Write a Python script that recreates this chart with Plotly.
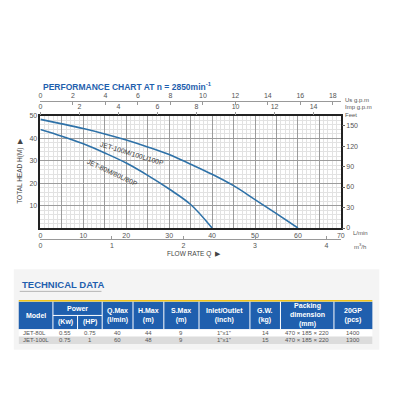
import plotly.graph_objects as go

# performance curves (flow in L/min, head in m)
flow_80 = [0, 5, 10, 15, 20, 25, 30, 35, 40]
head_80 = [44, 41, 37.6, 33.5, 29, 23.5, 17.4, 10.5, 0]
flow_100 = [0, 5, 10, 15, 20, 25, 30, 35, 40, 45, 50, 55, 60]
head_100 = [48.5, 46.5, 44.4, 42, 39.3, 36.2, 32.8, 28.5, 24, 18.9, 12.7, 6.4, 0]
curve_names = ["JET-80M/80L/80P", "JET-100M/100L/100P"]

# unit conversions for the extra axes
LPM_MAX = 70
HEAD_MAX = 50
US_GPM = 0.264172
IMP_GPM = 0.219969
M3H = 0.06
FEET = 3.28084

# technical data table
col_models = ["JET-80L", "JET-100L"]
col_kw = ["0.55", "0.75"]
col_hp = ["0.75", "1"]
col_qmax = ["40", "60"]
col_hmax = ["44", "48"]
col_smax = ["9", "9"]
col_inlet = ['1"x1"', '1"x1"']
col_gw = ["14", "15"]
col_pack = ["470 × 185 × 220", "470 × 185 × 220"]
col_20gp = ["1400", "1300"]

BLUE = "#1f5fae"
CURVE = "#2f72a8"
W = H = 400


def px(x):
    return x / W


def py(y):
    return 1 - y / H


fig = go.Figure()
for fl, hd in [(flow_80, head_80), (flow_100, head_100)]:
    fig.add_trace(go.Scatter(x=fl, y=hd, mode="lines", line=dict(color=CURVE, width=1.6, shape="spline"),
                             showlegend=False, hoverinfo="skip"))

# the same curve in the other units, invisible, so the secondary axes get drawn
fig.add_trace(go.Scatter(x=[f * US_GPM for f in flow_100], y=head_100, xaxis="x2", yaxis="y",
                         opacity=0, showlegend=False, hoverinfo="skip"))
fig.add_trace(go.Scatter(x=[f * IMP_GPM for f in flow_100], y=head_100, xaxis="x3", yaxis="y",
                         opacity=0, showlegend=False, hoverinfo="skip"))
fig.add_trace(go.Scatter(x=[f * M3H for f in flow_100], y=head_100, xaxis="x4", yaxis="y",
                         opacity=0, showlegend=False, hoverinfo="skip"))
fig.add_trace(go.Scatter(x=flow_100, y=[h * FEET for h in head_100], xaxis="x", yaxis="y2",
                         opacity=0, showlegend=False, hoverinfo="skip"))

tick_font = dict(family="Arial", size=7, color="#555")
xdom = [px(39), px(344)]

fig.update_layout(
    width=W, height=H, margin=dict(l=0, r=0, t=0, b=0),
    paper_bgcolor="white", plot_bgcolor="white",
    xaxis=dict(domain=xdom, range=[0, LPM_MAX], tickmode="array",
               tickvals=list(range(0, 71, 5)),
               ticktext=[str(v) if v % 10 == 0 else "" for v in range(0, 71, 5)],
               showgrid=True, gridcolor="#9c9c9c", gridwidth=1,
               minor=dict(tick0=0, dtick=1, showgrid=True, gridcolor="#e2e2e2", gridwidth=0.6),
               showline=True, linecolor="#222", linewidth=1.6, mirror=True,
               ticks="", tickfont=tick_font, zeroline=False),
    yaxis=dict(domain=[py(228), py(114)], range=[0, HEAD_MAX], tickmode="array",
               tickvals=list(range(0, 51, 10)),
               ticktext=["" if v == 0 else str(v) for v in range(0, 51, 10)],
               showgrid=True, gridcolor="#9c9c9c", gridwidth=1,
               minor=dict(tick0=0, dtick=2, showgrid=True, gridcolor="#e2e2e2", gridwidth=0.6),
               showline=True, linecolor="#222", linewidth=1.6, mirror=True,
               ticks="", tickfont=tick_font, zeroline=False),
    yaxis2=dict(overlaying="y", side="right", anchor="x", range=[0, HEAD_MAX * FEET],
                tickvals=list(range(0, 151, 30)), ticks="outside", ticklen=3, tickcolor="#666",
                showgrid=False, zeroline=False, tickfont=tick_font),
    xaxis2=dict(overlaying="x", side="top", anchor="free", position=py(99),
                range=[0, LPM_MAX * US_GPM], dtick=2, showline=True, linecolor="#999",
                ticks="inside", ticklen=3, tickcolor="#999", showgrid=False, zeroline=False,
                tickfont=tick_font),
    xaxis3=dict(overlaying="x", side="top", anchor="y",
                range=[0, LPM_MAX * IMP_GPM], dtick=2, showline=False,
                ticks="outside", ticklen=3, tickcolor="#999", showgrid=False, zeroline=False,
                tickfont=tick_font),
    xaxis4=dict(overlaying="x", side="bottom", anchor="free", position=py(239),
                range=[0, LPM_MAX * M3H], dtick=1, showline=True, linecolor="#999",
                ticks="inside", ticklen=3, tickcolor="#999", showgrid=False, zeroline=False,
                tickfont=tick_font),
)

ann = []


def label(x, y, text, size=7, color="#555", xanchor="left", bold=False, angle=0, **kw):
    if bold:
        text = "<b>" + text + "</b>"
    ann.append(dict(x=px(x), y=py(y), xref="paper", yref="paper", text=text, showarrow=False,
                    xanchor=xanchor, yanchor="middle", textangle=angle,
                    font=dict(family="Arial", size=size, color=color), **kw))


label(40, 84, "PERFORMANCE CHART AT n = 2850min<sup>-1</sup>", size=8.5, color=BLUE, bold=True)
label(346, 98, "Us g.p.m", size=6)
label(346, 105, "Imp g.p.m", size=6)
label(346, 113, "Feet", size=6)
label(354, 233, "L/min", size=6)
label(355, 246, "m<sup>3</sup>/h", size=6)
label(165, 254, "FLOW RATE Q  ▶", size=6.5, color="#444")
label(18, 170, "TOTAL HEAD H(M)  ▶", size=6.5, color="#444", xanchor="center", angle=-90)

# curve labels follow the curves
ann.append(dict(x=16.7, y=24.8, xref="x", yref="y", text=curve_names[0], showarrow=False,
                textangle=25, font=dict(family="Arial", size=6.8, color="#3a3a3a")))
ann.append(dict(x=21.3, y=33.4, xref="x", yref="y", text=curve_names[1], showarrow=False,
                textangle=17, font=dict(family="Arial", size=6.8, color="#3a3a3a")))

# technical data section
shapes = []
shapes.append(dict(type="rect", xref="paper", yref="paper", x0=px(12), x1=px(383), y0=py(352), y1=py(270),
                   fillcolor="#f4f4f4", line=dict(width=0), layer="below"))
label(18, 285, "TECHNICAL DATA", size=9.5, color=BLUE, bold=True)
shapes.append(dict(type="line", xref="paper", yref="paper", x0=px(18), x1=px(101), y0=py(292.5), y1=py(292.5),
                   line=dict(color="#b5b5b5", width=1)))

edges = [17, 51.7, 76.7, 101.7, 133, 164.3, 200, 251.7, 282.7, 337, 376]
top, mid, hbot = 303, 317, 331
row_h = 7.5
shapes.append(dict(type="rect", xref="paper", yref="paper", x0=px(edges[0]), x1=px(edges[-1]),
                   y0=py(hbot), y1=py(top), fillcolor=BLUE, line=dict(width=0)))
shapes.append(dict(type="line", xref="paper", yref="paper", x0=px(edges[0]), x1=px(edges[-1]),
                   y0=py(302), y1=py(302), line=dict(color="#f0c419", width=1.6)))
for e in edges[1:-1]:
    y_start = mid if e == edges[2] else top
    shapes.append(dict(type="line", xref="paper", yref="paper", x0=px(e), x1=px(e),
                       y0=py(hbot), y1=py(y_start), line=dict(color="white", width=1)))
shapes.append(dict(type="line", xref="paper", yref="paper", x0=px(edges[1]), x1=px(edges[3]),
                   y0=py(mid), y1=py(mid), line=dict(color="white", width=1)))
shapes.append(dict(type="rect", xref="paper", yref="paper", x0=px(edges[0]), x1=px(edges[-1]),
                   y0=py(hbot + 2 * row_h), y1=py(hbot), fillcolor="white", line=dict(width=0)))
shapes.append(dict(type="rect", xref="paper", yref="paper", x0=px(edges[0]), x1=px(edges[-1]),
                   y0=py(hbot + 2 * row_h), y1=py(hbot + row_h), fillcolor="#dcdcdc", line=dict(width=0)))


def cx(i, j=None):
    j = i + 1 if j is None else j
    return (edges[i] + edges[j]) / 2


hdr = dict(size=7, color="white", bold=True, xanchor="center")
label(cx(0), (top + hbot) / 2, "Model", **hdr)
label(cx(1, 3), (top + mid) / 2, "Power", **hdr)
label(cx(1), (mid + hbot) / 2, "(Kw)", **hdr)
label(cx(2), (mid + hbot) / 2, "(HP)", **hdr)
headers = ["Q.Max<br>(l/min)", "H.Max<br>(m)", "S.Max<br>(m)", "Inlet/Outlet<br>(inch)",
           "G.W.<br>(kg)", "Packing<br>dimension<br>(mm)", "20GP<br>(pcs)"]
for k, t in enumerate(headers):
    label(cx(k + 3), (top + hbot) / 2, t, **hdr)

columns = [col_models, col_kw, col_hp, col_qmax, col_hmax, col_smax, col_inlet, col_gw, col_pack, col_20gp]
for r in range(len(col_models)):
    yy = hbot + row_h * (r + 0.5)
    for c, col in enumerate(columns):
        if c == 0:
            label(edges[0] + 2, yy, col[r], size=6, color="#555")
        else:
            label(cx(c), yy, col[r], size=6, color="#555", xanchor="center")

fig.update_layout(annotations=ann, shapes=shapes)
# the page body has a default margin; drop it so the figure sits at the window corner
fig.write_html("out.html", config={"displayModeBar": False},
               post_script="document.body.style.margin='0';")
